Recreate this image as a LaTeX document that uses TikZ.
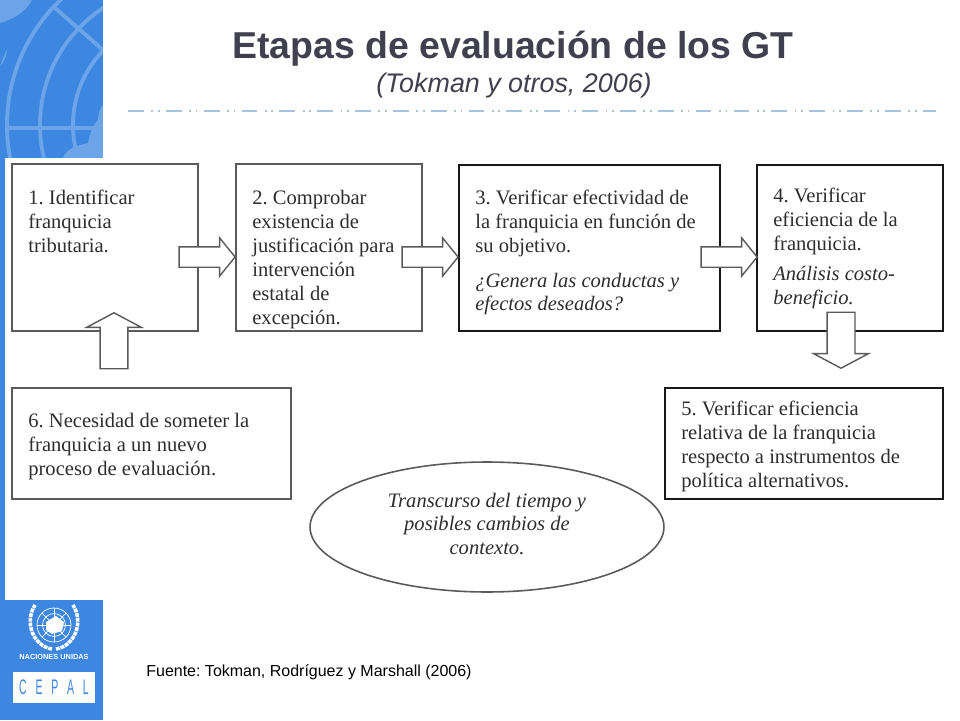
\documentclass[tikz,border=0pt]{standalone}
\usepackage{fontspec}
\setmainfont{Liberation Serif}
\newfontfamily\slidefont{Liberation Sans}
\usetikzlibrary{shapes.geometric,shapes.arrows}

\definecolor{cepalblue}{HTML}{3D87E0}
\definecolor{cepallight}{HTML}{6BA4E9}
\definecolor{titlegray}{HTML}{40404E}
\definecolor{ruleblue}{HTML}{A9C3DE}
\definecolor{grayline}{HTML}{5A5A5A}

\tikzset{
  stepbox/.style={draw=grayline,line width=0.85pt,fill=white,minimum width=#1,minimum height=3.34cm,inner sep=0pt},
  strongbox/.style={draw=black!90,line width=1.1pt,fill=white,minimum width=#1,minimum height=3.32cm,inner sep=0pt},
  steptext/.style={anchor=north west,align=left,inner sep=0pt,font=\fontsize{11.7}{13.6}\selectfont,text=black!82},
  hollowsmall/.style={draw=grayline,line width=0.8pt,fill=white,single arrow,anchor=tip,rotate=#1,single arrow head extend=0.18cm,single arrow tip angle=102,inner xsep=0pt,inner ysep=0.19cm,minimum height=1.12cm},
  hollowbig/.style={draw=grayline,line width=0.8pt,fill=white,single arrow,anchor=tip,rotate=#1,single arrow head extend=0.27cm,single arrow tip angle=124,inner xsep=0pt,inner ysep=0.265cm,minimum height=1.12cm},
  globeline/.style={draw=cepallight,line width=2.2pt},
  emblemline/.style={draw=white,line width=0.4pt},
  wreath/.style={draw=white,line width=2pt,dash pattern=on 2.2pt off 0.5pt},
}

\begin{document}
\frenchspacing
\begin{tikzpicture}[x=0.02cm,y=-0.02cm]
\useasboundingbox (0,0) rectangle (960,720);

% Blue side band
\fill[cepalblue] (0,0) rectangle (103,720);
\begin{scope}
\clip (0,0) rectangle (103,158);
\draw[globeline] (180,125) circle (173);
\draw[globeline] (180,125) circle (140);
\draw[globeline] (180,125) circle (107);
\draw[globeline] (7,128) -- (97,128);
\draw[globeline] (55,8) -- (103,50);
\fill[cepallight] (0,0) -- (32,0) .. controls (26,12) and (12,20) .. (0,23) -- cycle;
\fill[cepallight] (0,66) .. controls (2,60) and (5,54) .. (7,49) .. controls (7,56) and (4,62) .. (0,66) -- cycle;
\fill[cepallight] (63,158) .. controls (66,150) and (72,147) .. (88,143) .. controls (90,134) and (92,126) .. (98,120) .. controls (98,114) and (100,108) .. (103,105) -- (103,158) -- cycle;
\end{scope}
\fill[white] (5,158) rectangle (960,600);
\fill[white] (103,0) rectangle (960,720);

% Emblem and logo
\draw[emblemline] (54,625) circle (17);
\draw[emblemline] (54,625) circle (11.5);
\draw[emblemline] (54,625) circle (6);
\draw[emblemline] (37,625) -- (71,625);
\draw[emblemline] (54,608) -- (54,642);
\draw[emblemline] (42,613) -- (66,637);
\draw[emblemline] (66,613) -- (42,637);
\fill[white] (46,622) -- (56,616) -- (64,622) -- (62,631) -- (52,634) -- (46,630) -- cycle;
\draw[wreath] (52,649) .. controls (33,646) and (24,622) .. (35,605);
\draw[wreath] (56,649) .. controls (75,646) and (84,622) .. (73,605);
\node (unidas) at (54,657) {\slidefont\bfseries\color{white}\fontsize{4.2}{4}\selectfont NACIONES\ UNIDAS};
\fill[white] (13,672) rectangle (95,703);
\node[text=cepalblue] (cepal) at (54,687.5) {\slidefont\fontsize{12}{14}\selectfont\scalebox{0.5}[1]{C\hspace{10pt}E\hspace{10pt}P\hspace{10pt}A\hspace{10pt}L}};

% Title
\node[text=titlegray] (title) at (513,49) {\slidefont\bfseries\fontsize{21.3}{24}\selectfont Etapas de evaluación de los GT};
\node[text=titlegray] (subtitle) at (514,86) {\slidefont\itshape\fontsize{15.3}{16}\selectfont (Tokman y otros, 2006)};
\draw[ruleblue,line width=0.6pt,dash pattern=on 9pt off 4.3pt on 1pt off 2.7pt on 1pt off 3.54pt] (128,111) -- (936,111);

% Boxes
\node[stepbox=3.72cm] (stepone) at (105,247.5) {};
\node[stepbox=3.72cm] (steptwo) at (329,247.5) {};
\node[strongbox=5.22cm] (stepthree) at (589.5,248) {};
\node[strongbox=3.72cm] (stepfour) at (850,248) {};
\node[strongbox=5.56cm,minimum height=2.22cm] (stepfive) at (804,443.5) {};
\node[stepbox=5.58cm,minimum height=2.22cm] (stepsix) at (151.5,443.5) {};
\node[ellipse,draw=grayline,line width=0.9pt,fill=white,minimum width=7.08cm,minimum height=2.6cm,inner sep=0pt] (cambios) at (487,527) {};

% Block arrows between boxes
\node[hollowsmall=0] (arrowa) at (236,257) {};
\node[hollowsmall=0] (arrowb) at (459,257) {};
\node[hollowsmall=0] (arrowc) at (758,257) {};
\node[hollowbig=90] (arrowd) at (114,312) {};
\node[hollowbig=-90] (arrowe) at (841,369) {};

% Texts
\node[steptext] (textone) at (28,190) {1. Identificar\\franquicia\\tributaria.};
\node[steptext] (texttwo) at (252,190) {2. Comprobar\\existencia de\\justificación para\\intervención\\estatal de\\excepción.};
\node[steptext] (textthree) at (475,190) {3. Verificar efectividad de\\la franquicia en función de\\su objetivo.\\[6pt]\textit{¿Genera las conductas y}\\\textit{efectos deseados?}};
\node[steptext] (textfour) at (773,188) {4. Verificar\\eficiencia de la\\franquicia.\\[3.5pt]\textit{Análisis costo-}\\\textit{beneficio.}};
\node[steptext] (textfive) at (681,401) {5. Verificar eficiencia\\relativa de la franquicia\\respecto a instrumentos de\\política alternativos.};
\node[steptext] (textsix) at (28,413) {6. Necesidad de someter la\\franquicia a un nuevo\\proceso de evaluación.};
\node[align=center,inner sep=0pt,font=\fontsize{11.7}{13.6}\selectfont\itshape,text=black!82] (textcambios) at (487,524) {Transcurso del tiempo y\\posibles cambios de\\contexto.};

% Source
\node[anchor=west,inner sep=0pt] (fuente) at (146,672) {\slidefont\fontsize{9.1}{11}\selectfont Fuente: Tokman, Rodríguez y Marshall (2006)};

\end{tikzpicture}
\end{document}
